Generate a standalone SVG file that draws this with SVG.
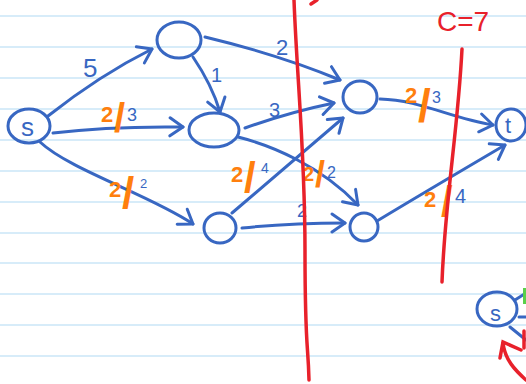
<svg xmlns="http://www.w3.org/2000/svg" width="526" height="384" viewBox="0 0 526 384">
<style>
.paper{stroke:#d7ecf9;stroke-width:2}
.node{fill:none;stroke:#3867c2;stroke-width:3}
.edge{fill:none;stroke:#3867c2;stroke-width:3;stroke-linecap:round;marker-end:url(#arr)}
.plain{fill:none;stroke:#3867c2;stroke-width:3;stroke-linecap:round}
.cut{fill:none;stroke:#e8212b;stroke-width:3.5;stroke-linecap:round}
text{font-family:"Liberation Sans",Arial,sans-serif}
.b{fill:#3867c2}
.o{fill:#ff7f0e;font-weight:bold}
.r{fill:#e8212b}
</style>
<defs>
<marker id="arr" viewBox="-16 -12 18 24" refX="0" refY="0" markerWidth="18" markerHeight="24" markerUnits="userSpaceOnUse" orient="auto">
<path d="M-13,-9 L0,0 L-13,9" fill="none" stroke="#3867c2" stroke-width="3" stroke-linecap="round" stroke-linejoin="round"/>
</marker>
</defs>
<rect width="526" height="384" fill="#ffffff"/>
<g id="paper">
<line class="paper" x1="0" y1="16" x2="526" y2="16"/>
<line class="paper" x1="0" y1="47" x2="526" y2="47"/>
<line class="paper" x1="0" y1="78" x2="526" y2="78"/>
<line class="paper" x1="0" y1="109" x2="526" y2="109"/>
<line class="paper" x1="0" y1="140" x2="526" y2="140"/>
<line class="paper" x1="0" y1="171" x2="526" y2="171"/>
<line class="paper" x1="0" y1="202" x2="526" y2="202"/>
<line class="paper" x1="0" y1="233" x2="526" y2="233"/>
<line class="paper" x1="0" y1="263" x2="526" y2="263"/>
<line class="paper" x1="0" y1="294" x2="526" y2="294"/>
<line class="paper" x1="0" y1="325" x2="526" y2="325"/>
<line class="paper" x1="0" y1="356" x2="526" y2="356"/>
</g>
<g id="connectors">
<path class="edge" d="M48,116 Q100,75 152,49"/>
<path class="edge" d="M53,133 Q110,126 183,127"/>
<path class="edge" d="M40,142 C70,170 150,195 193,224"/>
<path class="edge" d="M193,57 Q212,85 220,112"/>
<path class="edge" d="M205,37 Q280,55 340,80"/>
<path class="edge" d="M245,128 Q290,112 334,103"/>
<path class="edge" d="M238,137 C270,145 320,165 358,205"/>
<path class="edge" d="M232,213 L343,118"/>
<path class="edge" d="M242,228 Q290,223 345,223"/>
<path class="edge" d="M380,99 C420,100 450,118 493,125"/>
<path class="edge" d="M377,221 Q420,195 505,145"/>
<path class="plain" d="M515,300 L526,293"/>
<path class="plain" d="M519,317 L526,317"/>
<path class="plain" d="M510,327 L526,340"/>
</g>
<g id="labels">
<text class="b" x="83" y="77" font-size="26">5</text>
<text class="b" x="211" y="82" font-size="20">1</text>
<text class="b" x="276" y="55" font-size="22">2</text>
<text class="b" x="269" y="117" font-size="20">3</text>
<text class="b" x="297" y="217" font-size="18">2</text>
<text><tspan class="o" x="101" y="122" font-size="22">2</tspan><tspan class="o" x="114" y="132" font-size="40">/</tspan><tspan class="b" x="127" y="121" font-size="18">3</tspan></text>
<text><tspan class="o" x="109" y="197" font-size="22">2</tspan><tspan class="o" x="122" y="208" font-size="44">/</tspan><tspan class="b" x="140" y="188" font-size="13">2</tspan></text>
<text><tspan class="o" x="231" y="182" font-size="22">2</tspan><tspan class="o" x="244" y="192" font-size="42">/</tspan><tspan class="b" x="261" y="173" font-size="14">4</tspan></text>
<text><tspan class="o" x="303" y="181" font-size="20">2</tspan><tspan class="o" x="315" y="187" font-size="36">/</tspan><tspan class="b" x="327" y="178" font-size="16">2</tspan></text>
<text><tspan class="o" x="405" y="103" font-size="22">2</tspan><tspan class="o" x="418" y="122" font-size="46">/</tspan><tspan class="b" x="432" y="103" font-size="16">3</tspan></text>
<text><tspan class="o" x="424" y="207" font-size="22">2</tspan><tspan class="o" x="441" y="216" font-size="42">/</tspan><tspan class="b" x="455" y="203" font-size="20">4</tspan></text>
</g>
<g id="node-s">
<ellipse class="node" cx="29" cy="126" rx="21" ry="17"/>
<text class="b" x="21" y="136" font-size="26">s</text>
</g>
<g id="node-a"><ellipse class="node" cx="179" cy="40" rx="22" ry="18"/></g>
<g id="node-b"><ellipse class="node" cx="214" cy="130" rx="25" ry="17"/></g>
<g id="node-c"><ellipse class="node" cx="220" cy="228" rx="16" ry="15"/></g>
<g id="node-d"><ellipse class="node" cx="360" cy="97" rx="17" ry="16"/></g>
<g id="node-e"><ellipse class="node" cx="364" cy="227" rx="14" ry="14"/></g>
<g id="node-t">
<ellipse class="node" cx="511" cy="125" rx="15" ry="16"/>
<text class="b" x="505" y="133" font-size="22">t</text>
</g>
<g id="node-s2">
<ellipse class="node" cx="497" cy="309" rx="20" ry="17"/>
<text class="b" x="490" y="321" font-size="22">s</text>
</g>
<g id="cuts">
<path class="cut" d="M294,0 C297,80 305,150 305,250 S308,340 309,380"/>
<path class="cut" d="M311,4 L317,0"/>
<path class="cut" d="M462,49 C458,130 445,200 442,282"/>
<path class="cut" d="M526,380 C515,370 505,360 503,343"/>
<path class="cut" d="M500,358 L503,342 L521,350"/>
<path class="cut" d="M524,331 L524,348"/>
<rect x="523" y="288" width="3" height="16" fill="#5ad04a"/>
<text class="r" x="437" y="31" font-size="28">C=7</text>
</g>
</svg>
